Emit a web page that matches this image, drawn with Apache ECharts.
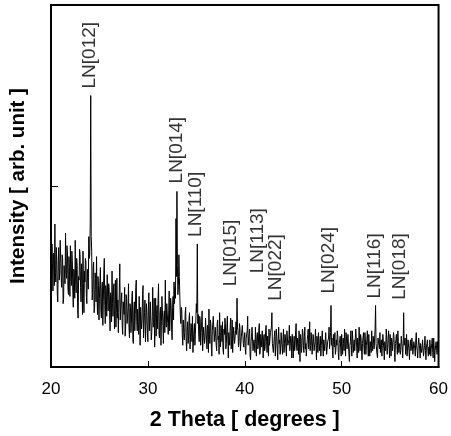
<!DOCTYPE html>
<html>
<head>
<meta charset="utf-8">
<script src="https://cdn.jsdelivr.net/npm/echarts@6/dist/echarts.min.js"></script>
<style>
  html, body { margin: 0; padding: 0; background: #fff; }
  #xrd { width: 451px; height: 436px; }
</style>
</head>
<body>
<div id="xrd"></div>
<script>
// scan grid: 20..60 deg, 0.05 deg step
var angleStart = 20;
var angleStep = 0.05;
var xTicks = [20, 30, 40, 50, 60];

// intensity, one row per degree
var intensity = [
    0.55, 0.49, 0.68, 0.57, 0.42, 0.63, 0.61, 0.45, 0.79, 0.52, 0.47, 0.66, 0.58, 0.40, 0.36, 0.59, 0.66, 0.48, 0.52, 0.70,
    0.71, 0.50, 0.44, 0.62, 0.60, 0.35, 0.38, 0.56, 0.57, 0.46, 0.74, 0.53, 0.49, 0.67, 0.63, 0.43, 0.40, 0.61, 0.55, 0.39,
    0.67, 0.51, 0.45, 0.64, 0.59, 0.42, 0.33, 0.54, 0.52, 0.38, 0.70, 0.47, 0.41, 0.60, 0.56, 0.31, 0.27, 0.50, 0.48, 0.65,
    0.62, 0.44, 0.36, 0.57, 0.51, 0.29, 0.64, 0.46, 0.30, 0.53, 0.47, 0.60, 0.58, 0.39, 0.35, 0.54, 0.55, 0.43, 0.72, 0.60,
    0.62, 0.80, 1.50, 0.72, 0.64, 0.37, 0.41, 0.55, 0.58, 0.30, 0.33, 0.52, 0.49, 0.36, 0.61, 0.40, 0.29, 0.50, 0.45, 0.26,
    0.38, 0.48, 0.55, 0.31, 0.27, 0.44, 0.47, 0.23, 0.36, 0.52, 0.60, 0.34, 0.24, 0.45, 0.42, 0.28, 0.51, 0.39, 0.31, 0.46,
    0.44, 0.30, 0.20, 0.41, 0.39, 0.25, 0.53, 0.35, 0.28, 0.43, 0.46, 0.21, 0.34, 0.48, 0.22, 0.32, 0.49, 0.27, 0.37, 0.19,
    0.30, 0.42, 0.57, 0.26, 0.25, 0.38, 0.41, 0.23, 0.18, 0.36, 0.35, 0.29, 0.44, 0.17, 0.21, 0.40, 0.38, 0.24, 0.27, 0.33,
    0.46, 0.22, 0.16, 0.35, 0.33, 0.19, 0.24, 0.39, 0.42, 0.15, 0.13, 0.31, 0.36, 0.20, 0.29, 0.44, 0.48, 0.25, 0.20, 0.32,
    0.31, 0.18, 0.39, 0.27, 0.12, 0.33, 0.34, 0.21, 0.26, 0.40, 0.45, 0.16, 0.17, 0.30, 0.37, 0.14, 0.23, 0.35, 0.30, 0.19,
    0.14, 0.32, 0.41, 0.20, 0.27, 0.36, 0.35, 0.15, 0.19, 0.28, 0.44, 0.22, 0.24, 0.38, 0.11, 0.26, 0.38, 0.17, 0.29, 0.34,
    0.21, 0.37, 0.46, 0.18, 0.16, 0.30, 0.33, 0.12, 0.25, 0.39, 0.40, 0.23, 0.13, 0.28, 0.31, 0.19, 0.48, 0.26, 0.22, 0.35,
    0.36, 0.24, 0.18, 0.31, 0.42, 0.20, 0.27, 0.38, 0.34, 0.21, 0.15, 0.33, 0.39, 0.26, 0.47, 0.35, 0.44, 0.38, 0.82, 0.50,
    0.97, 0.56, 0.40, 0.45, 0.62, 0.50, 0.38, 0.29, 0.24, 0.33, 0.31, 0.18, 0.12, 0.26, 0.27, 0.15, 0.19, 0.30, 0.33, 0.14,
    0.09, 0.21, 0.25, 0.13, 0.16, 0.27, 0.30, 0.10, 0.11, 0.24, 0.22, 0.14, 0.28, 0.08, 0.07, 0.20, 0.24, 0.12, 0.18, 0.26,
    0.35, 0.30, 0.68, 0.24, 0.29, 0.17, 0.14, 0.28, 0.26, 0.12, 0.19, 0.25, 0.31, 0.09, 0.08, 0.22, 0.23, 0.13, 0.16, 0.27,
    0.27, 0.15, 0.10, 0.23, 0.21, 0.08, 0.32, 0.18, 0.13, 0.26, 0.24, 0.11, 0.06, 0.20, 0.19, 0.28, 0.29, 0.14, 0.15, 0.22,
    0.22, 0.12, 0.09, 0.24, 0.26, 0.15, 0.17, 0.07, 0.30, 0.19, 0.11, 0.23, 0.20, 0.14, 0.25, 0.10, 0.07, 0.21, 0.18, 0.27,
    0.24, 0.10, 0.13, 0.22, 0.28, 0.16, 0.05, 0.19, 0.19, 0.12, 0.23, 0.27, 0.10, 0.15, 0.26, 0.08, 0.16, 0.22, 0.21, 0.13,
    0.12, 0.20, 0.25, 0.18, 0.38, 0.22, 0.20, 0.11, 0.14, 0.24, 0.22, 0.09, 0.08, 0.17, 0.18, 0.23, 0.24, 0.13, 0.11, 0.16,
    0.19, 0.10, 0.07, 0.16, 0.15, 0.20, 0.28, 0.12, 0.13, 0.18, 0.21, 0.06, 0.04, 0.14, 0.17, 0.22, 0.23, 0.09, 0.10, 0.15,
    0.16, 0.08, 0.22, 0.13, 0.06, 0.17, 0.19, 0.10, 0.12, 0.21, 0.24, 0.07, 0.09, 0.18, 0.15, 0.11, 0.20, 0.14, 0.05, 0.16,
    0.18, 0.09, 0.11, 0.20, 0.23, 0.14, 0.08, 0.17, 0.16, 0.06, 0.21, 0.12, 0.13, 0.19, 0.19, 0.22, 0.30, 0.13, 0.14, 0.08,
    0.09, 0.17, 0.20, 0.06, 0.12, 0.21, 0.17, 0.10, 0.04, 0.15, 0.22, 0.13, 0.15, 0.07, 0.10, 0.19, 0.18, 0.11, 0.07, 0.16,
    0.21, 0.08, 0.13, 0.18, 0.16, 0.10, 0.06, 0.20, 0.19, 0.12, 0.11, 0.15, 0.23, 0.09, 0.08, 0.17, 0.15, 0.05, 0.18, 0.13,
    0.05, 0.14, 0.17, 0.09, 0.12, 0.20, 0.24, 0.11, 0.09, 0.16, 0.14, 0.07, 0.20, 0.13, 0.03, 0.18, 0.16, 0.08, 0.11, 0.21,
    0.19, 0.12, 0.08, 0.17, 0.22, 0.10, 0.13, 0.06, 0.06, 0.15, 0.18, 0.21, 0.10, 0.14, 0.25, 0.09, 0.12, 0.19, 0.15, 0.07,
    0.07, 0.18, 0.16, 0.09, 0.11, 0.14, 0.21, 0.12, 0.04, 0.17, 0.14, 0.08, 0.19, 0.20, 0.09, 0.13, 0.17, 0.06, 0.12, 0.16,
    0.20, 0.11, 0.06, 0.15, 0.15, 0.09, 0.10, 0.19, 0.18, 0.07, 0.08, 0.14, 0.13, 0.16, 0.22, 0.10, 0.11, 0.19, 0.34, 0.12,
    0.16, 0.09, 0.05, 0.18, 0.14, 0.11, 0.19, 0.07, 0.09, 0.15, 0.12, 0.20, 0.17, 0.08, 0.04, 0.13, 0.15, 0.17, 0.10, 0.06,
    0.18, 0.12, 0.07, 0.16, 0.13, 0.09, 0.21, 0.14, 0.06, 0.19, 0.16, 0.10, 0.11, 0.18, 0.19, 0.07, 0.03, 0.12, 0.14, 0.20,
    0.12, 0.06, 0.20, 0.15, 0.08, 0.13, 0.15, 0.09, 0.10, 0.21, 0.17, 0.11, 0.05, 0.16, 0.13, 0.08, 0.22, 0.14, 0.09, 0.18,
    0.16, 0.10, 0.04, 0.13, 0.14, 0.19, 0.11, 0.07, 0.19, 0.15, 0.07, 0.12, 0.15, 0.20, 0.12, 0.06, 0.18, 0.11, 0.06, 0.14,
    0.13, 0.08, 0.20, 0.12, 0.09, 0.17, 0.16, 0.10, 0.11, 0.21, 0.34, 0.13, 0.14, 0.07, 0.05, 0.16, 0.17, 0.12, 0.10, 0.19,
    0.08, 0.13, 0.15, 0.06, 0.12, 0.18, 0.19, 0.10, 0.04, 0.14, 0.13, 0.09, 0.21, 0.16, 0.07, 0.11, 0.16, 0.20, 0.11, 0.05,
    0.18, 0.12, 0.06, 0.16, 0.14, 0.09, 0.10, 0.19, 0.17, 0.08, 0.03, 0.13, 0.15, 0.18, 0.12, 0.07, 0.20, 0.14, 0.08, 0.11,
    0.13, 0.07, 0.09, 0.17, 0.16, 0.11, 0.05, 0.13, 0.30, 0.12, 0.12, 0.16, 0.07, 0.10, 0.18, 0.06, 0.10, 0.15, 0.14, 0.09,
    0.04, 0.12, 0.15, 0.09, 0.11, 0.16, 0.17, 0.07, 0.08, 0.14, 0.13, 0.10, 0.06, 0.15, 0.19, 0.11, 0.09, 0.05, 0.12, 0.16,
    0.16, 0.10, 0.05, 0.13, 0.12, 0.08, 0.10, 0.15, 0.14, 0.06, 0.07, 0.12, 0.17, 0.09, 0.04, 0.11, 0.13, 0.15, 0.09, 0.06,
    0.11, 0.07, 0.15, 0.12, 0.06, 0.10, 0.13, 0.16, 0.08, 0.05, 0.16, 0.11, 0.03, 0.09, 0.12, 0.14, 0.10, 0.07, 0.14, 0.10,
    0.07
];

// indexed reflections
var peakNames = ['LN[012]', 'LN[014]', 'LN[110]', 'LN[015]', 'LN[113]', 'LN[022]', 'LN[024]', 'LN[116]', 'LN[018]'];
var peakAngles = [24.1, 33.0, 35.1, 39.2, 40.3, 42.8, 48.9, 53.5, 56.4];
var peakHeights = [1.50, 0.97, 0.68, 0.38, 0.28, 0.30, 0.34, 0.34, 0.30];

// label nudges in px: [gap above peak, sideways shift]
var labelShift = [[7, -1], [8, 0], [7, -2], [12, -6], [43, 10], [12, 4], [12, -2], [7, -1], [13, -4]];

var scan = intensity.map(function (v, i) {
    return [+(angleStart + i * angleStep).toFixed(2), v];
});

var peakMarks = peakAngles.map(function (a, i) {
    return {
        value: [a, peakHeights[i]],
        name: peakNames[i],
        // offset is applied in the rotated text frame
        label: { offset: labelShift[i] }
    };
});

var font = "'Liberation Sans', Arial, sans-serif";
var myChart = echarts.init(document.getElementById('xrd'));

option = {
    animation: false,
    grid: {
        left: 50, right: 9, top: 5, bottom: 65,
        show: true, borderColor: '#000', borderWidth: 2
    },
    xAxis: {
        type: 'value',
        min: xTicks[0],
        max: xTicks[xTicks.length - 1],
        interval: 10,
        name: '2 Theta [ degrees ]',
        nameLocation: 'middle',
        nameGap: 42,
        nameTextStyle: { fontFamily: font, fontSize: 21.5, fontWeight: 'bold', color: '#000' },
        axisLine: { lineStyle: { color: '#000', width: 2 } },
        axisTick: { inside: true, length: 6, lineStyle: { color: '#000', width: 1 } },
        axisLabel: { margin: 14, fontFamily: font, fontSize: 17, color: '#000' },
        splitLine: { show: false }
    },
    yAxis: {
        type: 'value',
        min: 0,
        max: 2,
        interval: 1,
        name: 'Intensity [ arb. unit ]',
        nameLocation: 'middle',
        nameGap: 22,
        nameTextStyle: { fontFamily: font, fontSize: 20.5, fontWeight: 'bold', color: '#000' },
        axisLine: { lineStyle: { color: '#000', width: 2 } },
        axisTick: { inside: true, length: 7, lineStyle: { color: '#000', width: 1 } },
        axisLabel: { show: false },
        splitLine: { show: false }
    },
    series: [
        {
            type: 'line',
            data: scan,
            showSymbol: false,
            lineStyle: { color: '#000', width: 1 },
            silent: true
        },
        {
            type: 'scatter',
            data: peakMarks,
            symbolSize: 0,
            silent: true,
            label: {
                show: true,
                position: 'top',
                distance: 0,
                rotate: 90,
                align: 'left',
                verticalAlign: 'middle',
                formatter: '{b}',
                fontFamily: font,
                fontSize: 19,
                color: '#000'
            }
        }
    ]
};

myChart.setOption(option);
</script>
</body>
</html>
